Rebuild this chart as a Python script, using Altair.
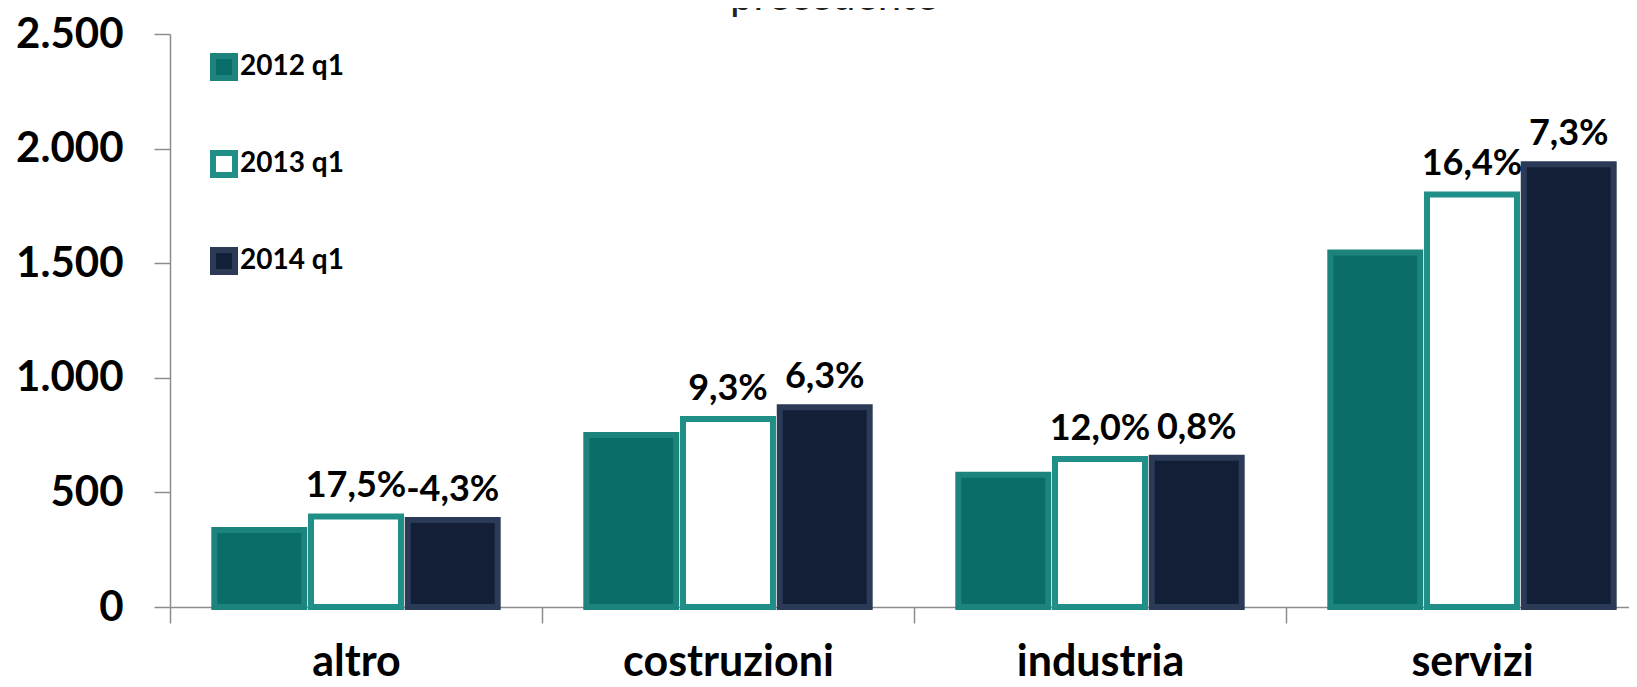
import altair as alt
import pandas as pd

categories = ["altro", "costruzioni", "industria", "servizi"]
series = ["2012 q1", "2013 q1", "2014 q1"]
v2012 = [336, 750, 577, 1547]
v2013 = [395, 820, 646, 1800]
v2014 = [380, 872, 651, 1932]
lab2013 = ["17,5%", "9,3%", "12,0%", "16,4%"]
lab2014 = ["-4,3%", "6,3%", "0,8%", "7,3%"]
y_ticks = [0, 500, 1000, 1500, 2000, 2500]

rows = []
for i, c in enumerate(categories):
    rows.append(dict(cat=c, serie=series[0], val=v2012[i], lab=""))
    rows.append(dict(cat=c, serie=series[1], val=v2013[i], lab=lab2013[i]))
    rows.append(dict(cat=c, serie=series[2], val=v2014[i], lab=lab2014[i]))
df = pd.DataFrame(rows)

FONT = "Lato"
GREY = "#8c8c8c"

fill_scale = alt.Scale(domain=series, range=["#0b6d68", "#ffffff", "#131f36"])
stroke_scale = alt.Scale(domain=series, range=["#1c847d", "#1f8f88", "#2b3b57"])

x = alt.X(
    "cat:N", sort=categories,
    scale=alt.Scale(paddingInner=0, paddingOuter=0),
    axis=alt.Axis(
        title=None, tickBand="extent", tickSize=16, labelPadding=18,
        labelFont=FONT, labelFontSize=43, labelFontWeight="bold",
        labelColor="black", labelAngle=0, labelLimit=0,
        domainColor=GREY, tickColor=GREY, domainWidth=1.5, tickWidth=1.5,
    ),
)
xo = alt.XOffset("serie:N", sort=series,
                 scale=alt.Scale(paddingInner=0.07, paddingOuter=0.458))
y = alt.Y(
    "val:Q",
    scale=alt.Scale(domain=[0, 2500], nice=False),
    axis=alt.Axis(
        title=None, values=y_ticks, tickSize=16, labelPadding=31, grid=False,
        labelExpr="replace(format(datum.value, ','), ',', '.')",
        labelFont=FONT, labelFontSize=42, labelFontWeight="bold",
        labelColor="black", domainColor=GREY, tickColor=GREY,
        domainWidth=1.5, tickWidth=1.5,
    ),
)

legend = alt.Legend(
    title=None, orient="none", legendX=40, legendY=19, direction="vertical",
    symbolType="square", symbolSize=484, symbolStrokeWidth=6,
    labelFont=FONT, labelFontSize=28, labelFontWeight="bold",
    labelColor="black", rowPadding=51, labelOffset=2,
)

bars = alt.Chart(df).mark_bar(strokeWidth=6).encode(
    x=x, xOffset=xo, y=y,
    fill=alt.Fill("serie:N", sort=series, scale=fill_scale, legend=legend),
    stroke=alt.Stroke("serie:N", sort=series, scale=stroke_scale, legend=legend),
)

text = alt.Chart(df).transform_filter("datum.lab != ''").mark_text(
    dy=-19, baseline="alphabetic", align="center",
    font=FONT, fontSize=36, fontWeight="bold", color="black",
).encode(x=x, xOffset=xo, y=y, text="lab:N")

chart = (
    alt.layer(bars, text)
    .properties(
        width=1488, height=573,
        title=alt.TitleParams(
            "precedente", font=FONT, fontSize=42, fontWeight="normal",
            color="#222222", frame="group", anchor="middle", offset=-6,
            dx=-80,
        ),
        autosize=alt.AutoSizeParams(type="none"),
        padding={"left": 162, "top": 26, "right": -29, "bottom": 72},
        background="white",
    )
    .configure_view(stroke=None)
)

chart.save("out.html", embed_options={"renderer": "svg", "actions": False})
